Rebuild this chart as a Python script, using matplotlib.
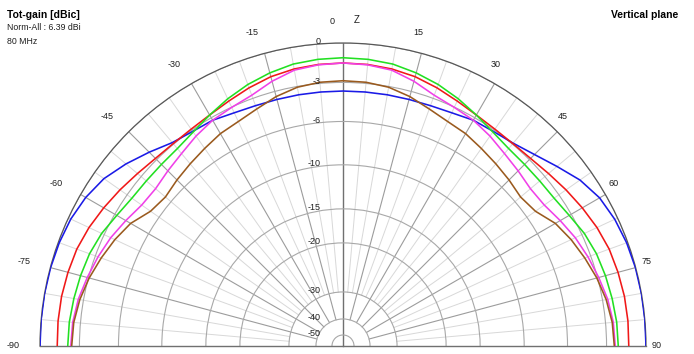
import numpy as np
import matplotlib
matplotlib.use('Agg')
import matplotlib.pyplot as plt
from matplotlib.transforms import ScaledTranslation

plt.rcParams['font.family'] = ['Liberation Sans', 'DejaVu Sans']

# elevation angles (deg from zenith) and gains in dB (normalised to 6.39 dBi)
angles = list(range(-90, 91, 5))
blue = [0.0, 0.0, 0.0, -0.02, -0.08, -0.2, -0.45, -0.85, -1.5, -2.2, -2.85, -3.12, -3.22, -3.48, -3.60, -3.64, -3.65, -3.66,
        -3.66,
        -3.66, -3.65, -3.64, -3.60, -3.48, -3.22, -3.12, -2.91, -2.45, -1.80, -1.04, -0.51, -0.24, -0.09, -0.02, 0.0, 0.0, 0.0]
red = [-1.31, -1.29, -1.31, -1.39, -1.50, -1.73, -2.03, -2.34, -2.64, -2.87, -2.95, -2.91, -2.76, -2.49, -2.15, -1.84, -1.65, -1.55,
       -1.52,
       -1.55, -1.65, -1.84, -2.15, -2.49, -2.76, -2.91, -2.95, -2.87, -2.64, -2.34, -2.03, -1.73, -1.50, -1.39, -1.31, -1.29, -1.31]
green = [-2.11, -2.15, -2.26, -2.38, -2.53, -2.79, -3.18, -3.45, -3.52, -3.52, -3.45, -3.18, -2.76, -2.30, -1.88, -1.54, -1.27, -1.16,
         -1.12,
         -1.16, -1.27, -1.54, -1.88, -2.30, -2.76, -3.18, -3.45, -3.52, -3.52, -3.45, -3.18, -2.79, -2.53, -2.38, -2.26, -2.15, -2.11]
magenta = [-2.34, -2.41, -2.60, -2.91, -3.22, -3.56, -3.98, -4.37, -4.45, -4.22, -3.95, -3.56, -3.22, -3.02, -2.75, -2.20, -1.74, -1.58,
           -1.52,
           -1.58, -1.74, -2.20, -2.75, -3.02, -3.22, -3.56, -3.95, -4.22, -4.45, -4.37, -3.98, -3.56, -3.22, -2.91, -2.60, -2.41, -2.34]
brown = [-2.41, -2.49, -2.72, -3.06, -3.48, -3.91, -4.41, -5.20, -5.44, -5.21, -4.98, -4.72, -4.41, -4.22, -3.87, -3.41, -3.06, -2.91,
         -2.87,
         -2.91, -3.06, -3.41, -3.87, -4.22, -4.41, -4.72, -4.98, -5.21, -5.44, -5.20, -4.41, -3.91, -3.48, -3.06, -2.72, -2.49, -2.41]

ring_db = [0, -3, -6, -10, -15, -20, -30, -40, -50]
ring_lbl = ['0', '-3', '-6', '-10', '-15', '-20', '-30', '-40', '-50']
tick_angles = list(range(-90, 91, 15))
tick_lbl = ['-90', '-75', '-60', '-45', '-30', '-15', '0', '15', '30', '45', '60', '75', '90']

# radial scale of the plot (dB -> radius, kept in the same -60..0 range)
scale_db = [-60, -50, -40, -30, -20, -15, -10, -6, -3, 0]
scale_px = [0, 11, 27, 54, 103, 137, 181, 224.3, 263.3, 302.7]
scale_r = [-60 + p * 60 / 302.7 for p in scale_px]
k_top = 13.13 * 60 / 302.7


def fwd(d):
    d = np.asarray(d, dtype=float)
    return np.interp(d, scale_db, scale_r) + np.where(d > 0, d * k_top, 0)


def inv(r):
    r = np.asarray(r, dtype=float)
    return np.interp(r, scale_r, scale_db) + np.where(r > 0, r / k_top, 0)


fig = plt.figure(figsize=(6.94, 3.54), dpi=100)
# polar half-disk fills half of its box, so give it a box twice the size
cx, cy, R = 343, 346, 303
mid_y = 354 - (cy - R / 2)
ax = fig.add_axes([(cx - 2 * R) / 694, (mid_y - R) / 354, 4 * R / 694, 2 * R / 354],
                  projection='polar')
ax.set_theta_zero_location('N')
ax.set_theta_direction(-1)
ax.set_thetamin(-90)
ax.set_thetamax(90)
ax.set_rscale('function', functions=(fwd, inv))
ax.set_rlim(-60, 0)

ax.set_rgrids(ring_db, labels=[''] * len(ring_db))
ax.yaxis.grid(True, color='#a8a8a8', lw=0.8)
ax.xaxis.grid(False)
ax.set_thetagrids(tick_angles, labels=[''] * len(tick_angles))

# spokes
for a in range(-85, 90, 5):
    if a % 15:
        ax.plot([np.deg2rad(a)] * 2, [-30, 0], color='#d8d8d8', lw=0.7, zorder=1)
for a in tick_angles[1:-1]:
    if a != 0:
        ax.plot([np.deg2rad(a)] * 2, [-40, 0], color='#9c9c9c', lw=0.8, zorder=1.5)
ax.plot([0, 0], [-60, 0], color='#707070', lw=1.0, zorder=1.5)

for s in ['start', 'end']:
    ax.spines[s].set_color('#707070')
    ax.spines[s].set_linewidth(1.0)
ax.spines['polar'].set_color('#585858')
ax.spines['polar'].set_linewidth(0.9)

th = np.deg2rad(angles)
ax.plot(th, blue, color='#1a1ae6', lw=1.15, zorder=3)
ax.plot(th, red, color='#f01818', lw=1.15, zorder=3)
ax.plot(th, green, color='#22e022', lw=1.15, zorder=3)
ax.plot(th, magenta, color='#f040e8', lw=1.15, zorder=3)
ax.plot(th, brown, color='#9a5a1e', lw=1.15, zorder=3)

# radial (dB) labels just left of the vertical axis
off = ax.transData + ScaledTranslation(-0.22, 0.01, fig.dpi_scale_trans)
for v, s in zip(ring_db, ring_lbl):
    ax.text(0, v, s, transform=off, ha='right', va='center', fontsize=6.5, color='#202020', zorder=4)

# angle labels outside the rim
for a, s in zip(tick_angles, tick_lbl):
    rad = np.deg2rad(a)
    dx = 19 * np.sin(rad) - 8
    dy = 22 * np.cos(rad)
    if a == 0:
        dx = -11
    t = ax.transData + ScaledTranslation(dx / 100, dy / 100, fig.dpi_scale_trans)
    ax.text(rad, 0, s, transform=t, ha='center', va='center', fontsize=6.5, color='#202020', clip_on=False)
ax.text(0, 0, 'Z', transform=ax.transData + ScaledTranslation(0.14, 0.23, fig.dpi_scale_trans),
        ha='center', va='center', fontsize=7, color='#202020', clip_on=False)

fig.text(7 / 694, 1 - 15 / 354, 'Tot-gain [dBic]', fontsize=7.5, fontweight='bold', va='center')
fig.text(7 / 694, 1 - 28 / 354, 'Norm-All : 6.39 dBi', fontsize=6.3, va='center', color='#202020')
fig.text(7 / 694, 1 - 41 / 354, '80 MHz', fontsize=6.3, va='center', color='#202020')
fig.text(678 / 694, 1 - 15 / 354, 'Vertical plane', fontsize=7.5, fontweight='bold', va='center', ha='right')

fig.savefig('out.png', dpi=100)
